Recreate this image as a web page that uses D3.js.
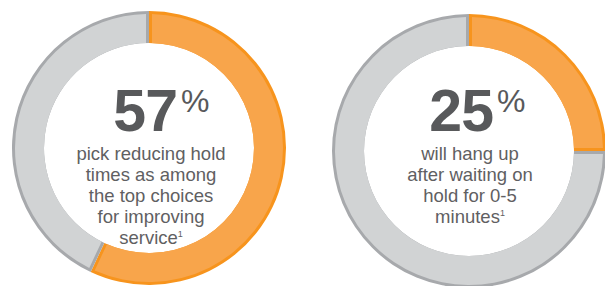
<!DOCTYPE html>
<html>
<head>
<meta charset="utf-8">
<script src="https://cdn.jsdelivr.net/npm/d3@7"></script>
<style>
  html, body { margin: 0; padding: 0; background: #ffffff; }
  svg { display: block; }
</style>
</head>
<body>
<script>
// ---- data ----
const percents = [57, 25];
const percentLabels = ["57", "25"];
const captionLines = [
  ["pick reducing hold", "times as among", "the top choices", "for improving", "service"],
  ["will hang up", "after waiting on", "hold for 0-5", "minutes"]
];
const footnotes = ["1", "1"];

// ---- layout ----
const W = 605, H = 286;
const centers = [{x: 149, y: 148}, {x: 469, y: 151}];
const R = 137, r = 105, border = 3;
const colors = {
  hiFill: "#F8A54B", hiEdge: "#F7941D",
  loFill: "#D1D3D4", loEdge: "#A7A9AC",
  big: "#58595B", text: "#5F6062"
};

const svg = d3.select("body").append("svg")
  .attr("width", W).attr("height", H);

const pie = d3.pie().sort(null).value(d => d.v);
const outerArc = d3.arc().outerRadius(R).innerRadius(r);
const innerArc = d3.arc().outerRadius(R - border).innerRadius(r)
  .padRadius(R).padAngle(2 * border / R);

percents.forEach((p, i) => {
  const c = centers[i];
  const g = svg.append("g").attr("transform", `translate(${c.x},${c.y})`);
  const arcs = pie([{v: p, k: "hi"}, {v: 100 - p, k: "lo"}]);

  g.selectAll("path.edge").data(arcs).join("path")
    .attr("class", "edge")
    .attr("d", outerArc)
    .attr("fill", d => d.data.k === "hi" ? colors.hiEdge : colors.loEdge);

  g.selectAll("path.fill").data(arcs).join("path")
    .attr("class", "fill")
    .attr("d", d => innerArc({startAngle: d.startAngle, endAngle: d.endAngle}))
    .attr("fill", d => d.data.k === "hi" ? colors.hiFill : colors.loFill);

  // big number
  const xNum = i === 0 ? 28 : 24;
  g.append("text")
    .attr("x", xNum).attr("y", 131 - c.y)
    .attr("text-anchor", "end")
    .attr("font-family", "Liberation Sans, Arial, sans-serif")
    .attr("font-weight", "bold")
    .attr("font-size", 59)
    .attr("fill", colors.big)
    .attr("letter-spacing", -1)
    .text(percentLabels[i]);
  g.append("text")
    .attr("x", xNum + 4).attr("y", 112 - c.y)
    .attr("text-anchor", "start")
    .attr("font-family", "Liberation Sans, Arial, sans-serif")
    .attr("font-size", 32)
    .attr("fill", colors.big)
    .text("%");

  // caption
  const lines = captionLines[i];
  const t = g.append("text")
    .attr("text-anchor", "middle")
    .attr("font-family", "Liberation Sans, Arial, sans-serif")
    .attr("font-size", 18.5)
    .attr("fill", colors.text);
  lines.forEach((ln, j) => {
    const ts = t.append("tspan")
      .attr("x", i === 0 ? 2 : 1)
      .attr("y", 160 + j * 21 - c.y);
    ts.text(ln);
    if (j === lines.length - 1) {
      ts.append("tspan")
        .attr("font-size", 9)
        .attr("dy", -7)
        .text(footnotes[i]);
    }
  });
});
</script>
</body>
</html>
